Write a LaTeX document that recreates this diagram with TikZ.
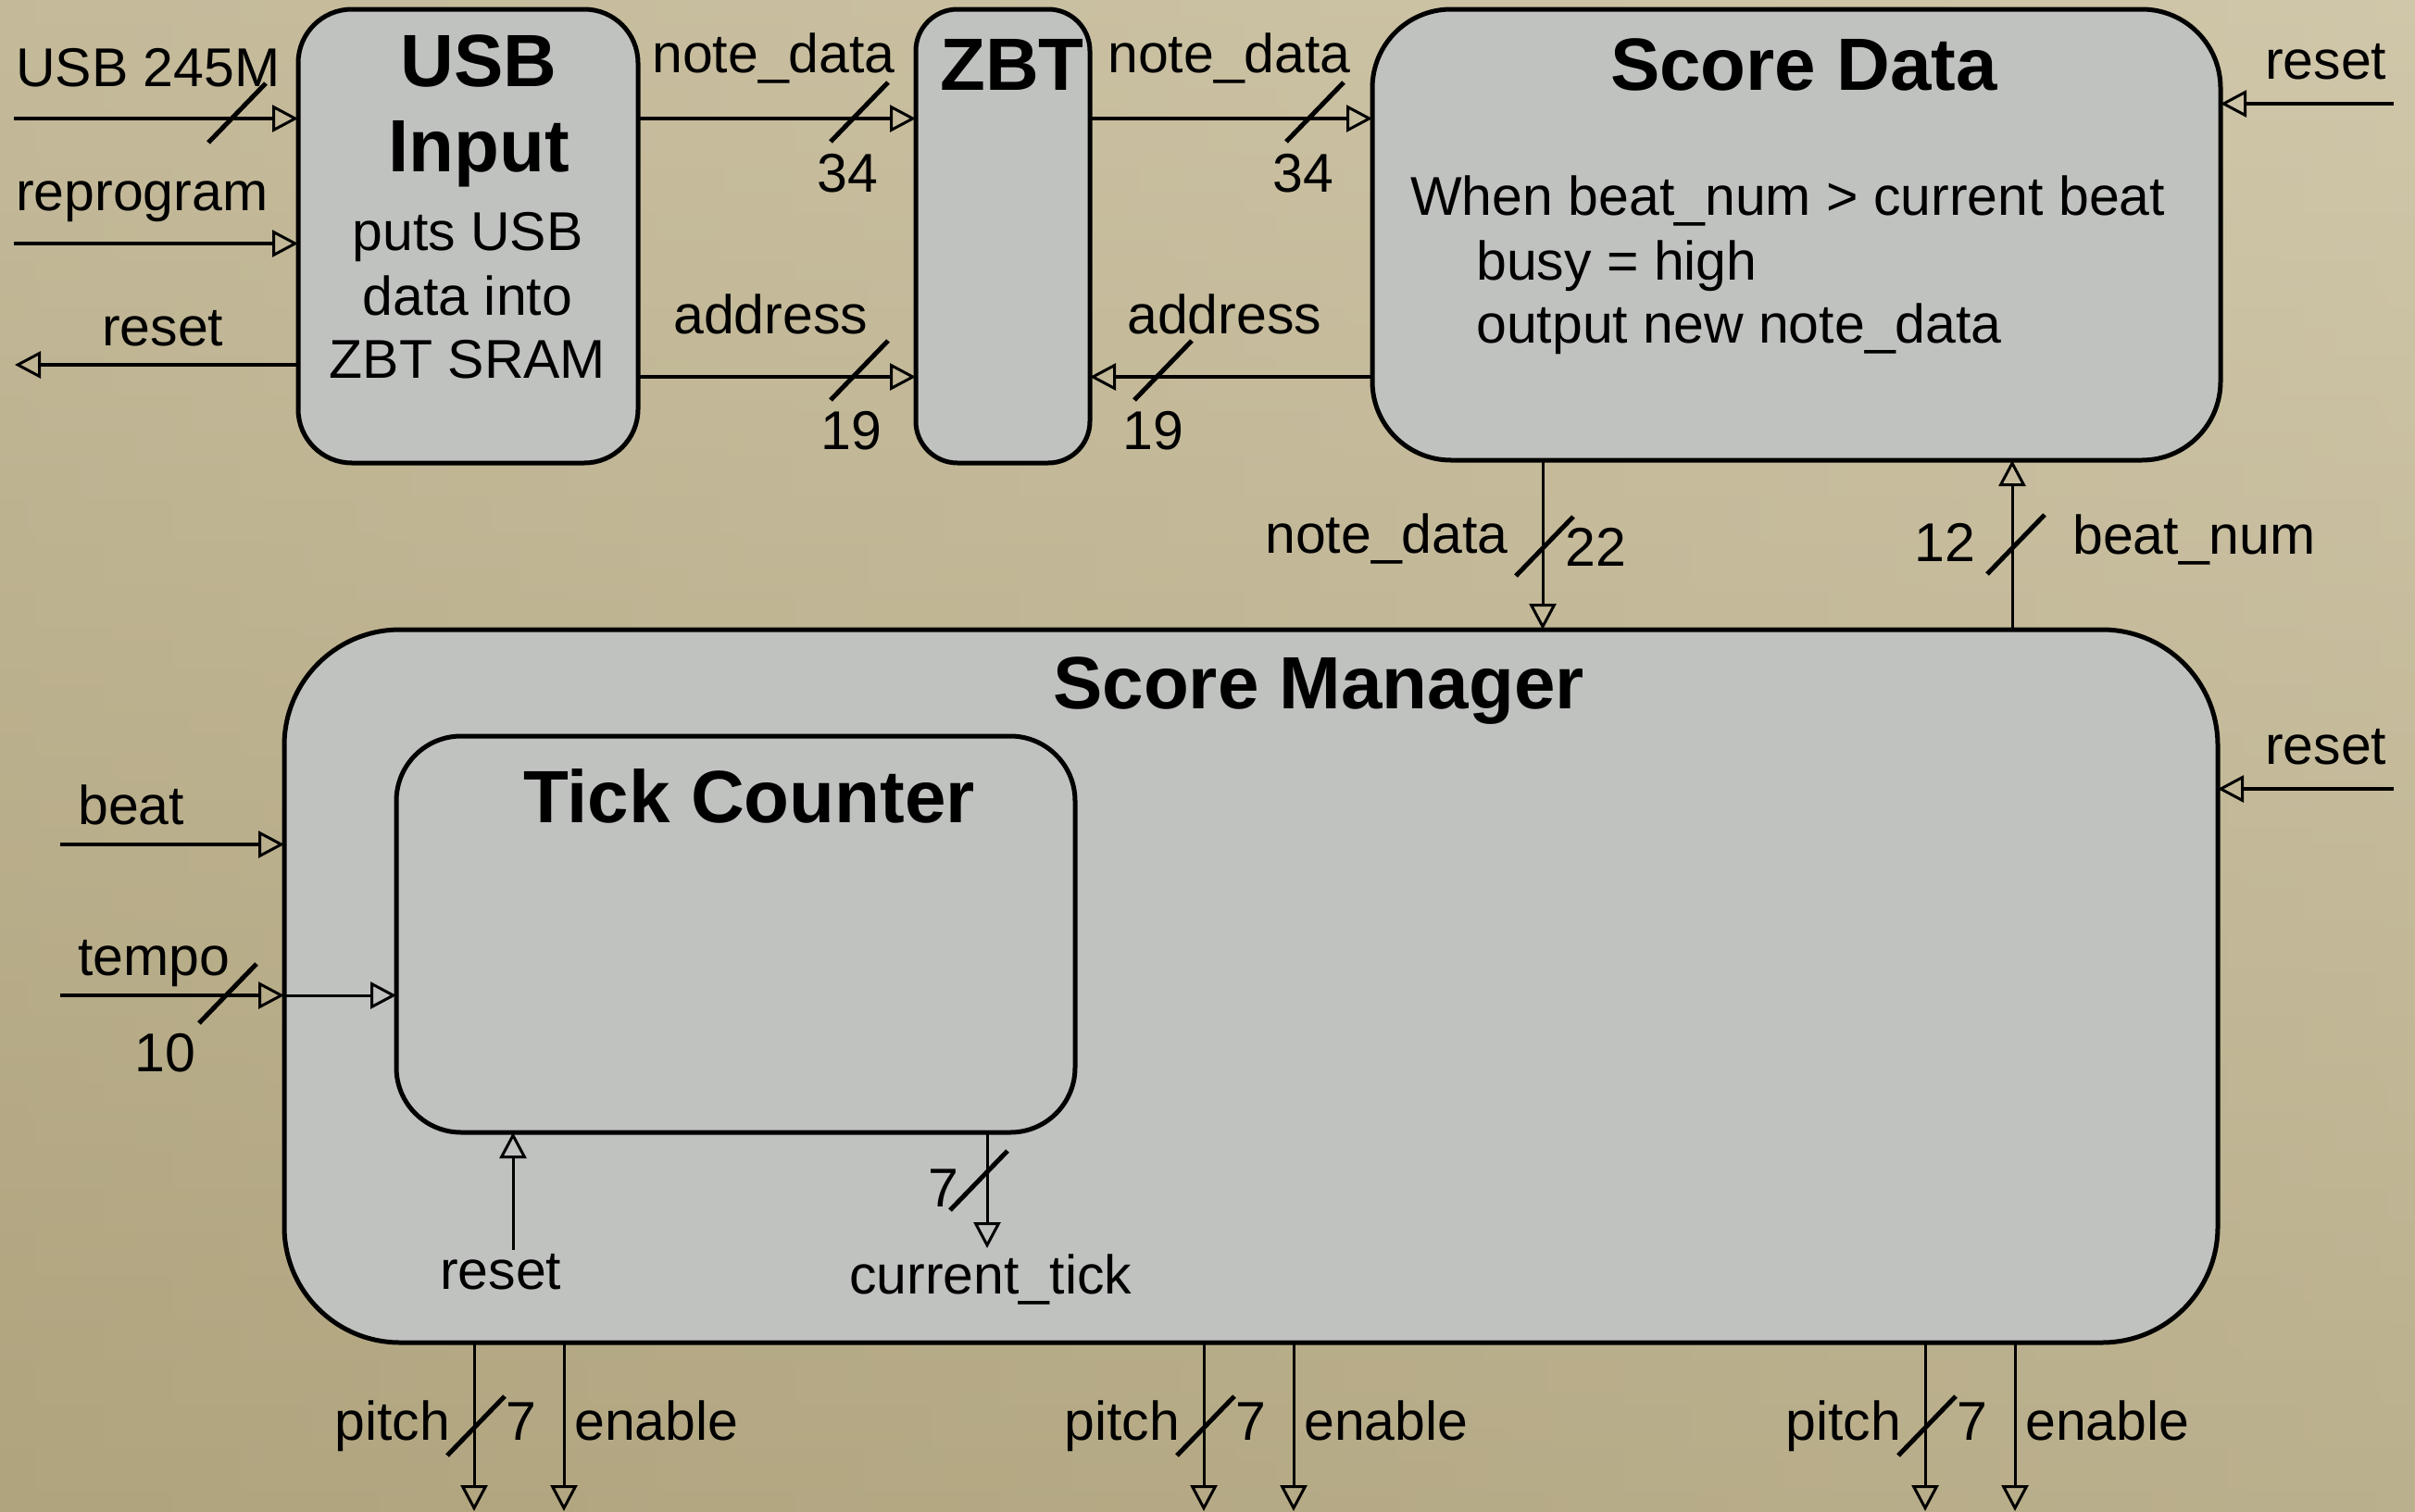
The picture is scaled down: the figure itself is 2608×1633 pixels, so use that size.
\documentclass[tikz,border=0pt]{standalone}
\usepackage{fontspec}
\setmainfont{Liberation Sans}
\usetikzlibrary{arrows.meta}

\definecolor{paperlight}{RGB}{208,199,170}
\definecolor{paperdark}{RGB}{176,164,126}
\definecolor{blockgray}{RGB}{192,194,192}

\begin{document}
\begin{tikzpicture}[x=1pt,y=-1pt,
  block/.style={draw=black, line width=5pt, fill=blockgray, rectangle,
                inner sep=0pt, outer sep=0pt},
  lbl/.style={inner sep=0pt, anchor=base west, font=\fontsize{59}{70}\selectfont},
  ctr/.style={inner sep=0pt, anchor=base, font=\fontsize{59}{70}\selectfont},
  ttl/.style={inner sep=0pt, anchor=base, font=\fontsize{80}{92}\selectfont\bfseries},
  sig/.style={line width=4pt, -{Triangle[open, length=28pt, width=29pt, line width=3pt]}},
  thinsig/.style={sig, line width=3pt},
  busmark/.pic={\draw[line width=5pt] (-31,32) -- (31,-32);}
]

% page and paper background
\useasboundingbox (0,0) rectangle (2608,1633);
\shade[top color=paperlight, bottom color=paperdark] (0,0) rectangle (2608,1633);
\shade[left color=paperdark, right color=paperlight, opacity=0.35] (0,0) rectangle (2608,1633);

% ---------------- blocks ----------------
\node[block, minimum width=367pt, minimum height=490pt, rounded corners=58pt] (usb) at (505.5,255) {};
\node[block, minimum width=188pt, minimum height=490pt, rounded corners=45pt] (zbt) at (1083,255) {};
\node[block, minimum width=916pt, minimum height=487pt, rounded corners=85pt] (sd) at (1940,253.5) {};
\node[block, minimum width=2088pt, minimum height=770pt, rounded corners=125pt] (sm) at (1351,1065) {};
\node[block, minimum width=733pt, minimum height=428pt, rounded corners=70pt] (tc) at (794.5,1009) {};

% block titles and contents
\node[ttl] (usbT1) at (517,93) {USB};
\node[ttl] (usbT2) at (517,185) {Input};
\node[ctr] (usbB1) at (505,270) {puts USB};
\node[ctr] (usbB2) at (505,340) {data into};
\node[ctr] (usbB3) at (505,408) {ZBT SRAM};
\node[ttl] (zbtT) at (1093,97) {ZBT};
\node[ttl] (sdT) at (1948,97) {Score Data};
\node[lbl] (sdB1) at (1523,232) {When beat\_num > current beat};
\node[lbl] (sdB2) at (1594,302) {busy = high};
\node[lbl] (sdB3) at (1594,370) {output new note\_data};
\node[ttl] (smT) at (1424,765) {Score Manager};
\node[ttl] (tcT) at (809,888) {Tick Counter};

% ---------------- connector rows and free ends ----------------
\coordinate (rowA) at (0,128);
\coordinate (rowB) at (0,407);
\coordinate (usbIn) at (15,128);
\coordinate (reprogIn) at (15,263);
\coordinate (resetOut) at (16,394);
\coordinate (sdReset) at (2585,112);
\coordinate (colND) at (1666,0);
\coordinate (colBN) at (2173,0);
\coordinate (smReset) at (2585,852);
\coordinate (beatIn) at (65,912);
\coordinate (tempoIn) at (65,1075);
\coordinate (tcReset) at (554,1350);
\coordinate (tickOut) at (1066,1348);

% USB Input ports
\draw[sig] (usbIn) -- (usb.west |- usbIn);
\draw[sig] (reprogIn) -- (usb.west |- reprogIn);
\draw[sig] (usb.west |- resetOut) -- (resetOut);
\pic at (256,122) {busmark};
\node[lbl] (lUsbClk) at (17,93) {USB 245M};
\node[lbl] (lReprog) at (17,227) {reprogram};
\node[lbl] (lReset1) at (110,373) {reset};

% USB Input -> ZBT
\draw[sig] (usb.east |- rowA) -- (zbt.west |- rowA);
\draw[sig] (usb.east |- rowB) -- (zbt.west |- rowB);
\pic at (928,121) {busmark};
\pic at (928,400) {busmark};
\node[lbl] (lNd1) at (704,78) {note\_data};
\node[lbl] (lNd1w) at (882,207) {34};
\node[lbl] (lAd1) at (727,360) {address};
\node[lbl] (lAd1w) at (886,485) {19};

% ZBT <-> Score Data
\draw[sig] (zbt.east |- rowA) -- (sd.west |- rowA);
\draw[sig] (sd.west |- rowB) -- (zbt.east |- rowB);
\pic at (1420,121) {busmark};
\pic at (1256,400) {busmark};
\node[lbl] (lNd2) at (1196,78) {note\_data};
\node[lbl] (lNd2w) at (1374,207) {34};
\node[lbl] (lAd2) at (1217,360) {address};
\node[lbl] (lAd2w) at (1212,485) {19};

% Score Data reset
\draw[sig] (sdReset) -- (sd.east |- sdReset);
\node[lbl] (lReset2) at (2446,85) {reset};

% Score Data <-> Score Manager
\draw[thinsig] (sd.south -| colND) -- (sm.north -| colND);
\draw[thinsig] (sm.north -| colBN) -- (sd.south -| colBN);
\pic at (1668,590) {busmark};
\pic at (2177,588) {busmark};
\node[lbl] (lNd3) at (1366,597) {note\_data};
\node[lbl] (lNd3w) at (1690,611) {22};
\node[lbl] (lBnw) at (2067,606) {12};
\node[lbl] (lBn) at (2238,598) {beat\_num};

% Score Manager inputs
\draw[sig] (smReset) -- (sm.east |- smReset);
\node[lbl] (lReset3) at (2446,825) {reset};
\draw[sig] (beatIn) -- (sm.west |- beatIn);
\node[lbl] (lBeat) at (84,890) {beat};
\draw[sig] (tempoIn) -- (sm.west |- tempoIn);
\draw[thinsig] (sm.west |- tempoIn) -- (tc.west |- tempoIn);
\pic at (246,1073) {busmark};
\node[lbl] (lTempo) at (84,1053) {tempo};
\node[lbl] (lTempow) at (145,1157) {10};

% Tick Counter ports
\draw[thinsig] (tcReset) -- (tc.south -| tcReset);
\node[lbl] (lReset4) at (475,1392) {reset};
\draw[thinsig] (tc.south -| tickOut) -- (tickOut);
\pic at (1057,1275) {busmark};
\node[lbl] (lTickw) at (1002,1303) {7};
\node[lbl] (lTick) at (917,1397) {current\_tick};

% Score Manager outputs: three pitch / enable pairs
\foreach \px [count=\i] in {512,1300,2079} {
  \coordinate (pitchOut\i) at (\px,1632);
  \coordinate (enOut\i) at (\px+97,1632);
  \draw[thinsig] (sm.south -| pitchOut\i) -- (pitchOut\i);
  \draw[thinsig] (sm.south -| enOut\i) -- (enOut\i);
  \pic at (\px+2,1540) {busmark};
  \node[lbl] (lPitch\i) at (\px-151,1555) {pitch};
  \node[lbl] (lPitchw\i) at (\px+34,1555) {7};
  \node[lbl] (lEn\i) at (\px+108,1555) {enable};
}

\end{tikzpicture}
\end{document}
